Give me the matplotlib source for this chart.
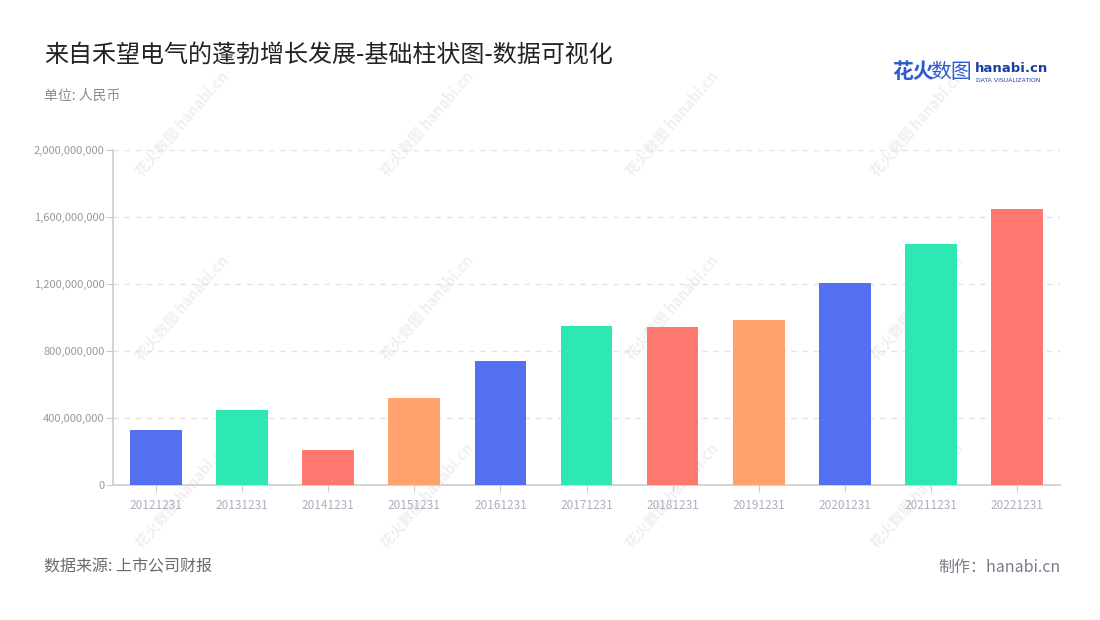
import numpy as np
import matplotlib

matplotlib.use("Agg")
import matplotlib.pyplot as plt
from matplotlib.ticker import FuncFormatter

plt.rcParams["font.family"] = ["Noto Sans CJK SC", "DejaVu Sans"]

# ---------- 数据 ----------
years = ["20121231", "20131231", "20141231", "20151231", "20161231", "20171231",
         "20181231", "20191231", "20201231", "20211231", "20221231"]
revenue = [330e6, 448e6, 209e6, 520e6, 740e6, 949e6,
           943e6, 985e6, 1206e6, 1439e6, 1648e6]
palette = ["#5470F0", "#2DE8B2", "#FF7870", "#FFA26E"]

title = "来自禾望电气的蓬勃增长发展-基础柱状图-数据可视化"
subtitle = "单位: 人民币"
source = "数据来源: 上市公司财报"
maker = "制作：hanabi.cn"

W, H = 1100, 620
fig = plt.figure(figsize=(W / 100, H / 100), dpi=100)
fig.patch.set_facecolor("white")


def fx(px):
    return px / W


def fy(py):
    return 1 - py / H


# ---------- 水印（放在底层） ----------
bg = fig.add_axes([0, 0, 1, 1], zorder=0)
bg.set_axis_off()
bg.set_xlim(0, 1)
bg.set_ylim(0, 1)
for cx in (182, 427, 672, 917):
    for cy in (123, 307, 495):
        bg.text(fx(cx), fy(cy), "花火数图 hanabi.cn", rotation=49,
                ha="center", va="center", fontsize=10.5, fontweight="bold",
                color="#f0f0f0")

ax = fig.add_axes([fx(113), fy(485), fx(1060) - fx(113), fy(150) - fy(485)], zorder=1)
ax.set_facecolor("none")

x = np.arange(len(years))
colors = [palette[i % len(palette)] for i in range(len(years))]
ax.bar(x, revenue, width=0.6, color=colors, zorder=3)

ax.set_xlim(-0.5, len(years) - 0.5)
ax.set_ylim(0, 2e9)
ax.set_yticks(np.arange(0, 2.01e9, 4e8))
ax.yaxis.set_major_formatter(FuncFormatter(lambda v, p: f"{int(v):,}"))
ax.set_xticks(x)
ax.set_xticklabels(years)

ax.grid(axis="y", color="#e3e3e3", linestyle=(0, (4, 4)), linewidth=1, zorder=0)
for s in ("top", "right"):
    ax.spines[s].set_visible(False)
for s in ("left", "bottom"):
    ax.spines[s].set_color("#cccccc")
    ax.spines[s].set_linewidth(1.2)

ax.tick_params(axis="y", colors="#cccccc", labelcolor="#999999", labelsize=8,
               length=5, pad=1)
ax.tick_params(axis="x", colors="#cccccc", labelcolor="#aab0c0", labelsize=8.5,
               length=5, pad=5)

# ---------- 文字 ----------
fig.text(fx(44), fy(55), title, fontsize=17.3, color="#222222", va="center", ha="left")
fig.text(fx(44), fy(96), subtitle, fontsize=10, color="#8c8c8c", va="center", ha="left")
fig.text(fx(44), fy(567), source, fontsize=11.5, color="#6b6b6b", va="center", ha="left")
fig.text(fx(1061), fy(567), maker, fontsize=11.5, color="#7a7a8a", va="center", ha="right")

# ---------- Logo ----------
fig.text(fx(892), fy(72), "花火", fontsize=15, fontweight="bold", color="#2d5bd1",
         va="center", ha="left")
fig.text(fx(930), fy(72), "数图", fontsize=15, color="#2d5bd1", va="center", ha="left")
fig.text(fx(975), fy(68), "hanabi.cn", fontsize=9.5, fontweight="bold", color="#1f3f9e",
         va="center", ha="left", family=["DejaVu Sans"])
fig.text(fx(976), fy(80), "DATA VISUALIZATION", fontsize=4.4, color="#1f3f9e",
         va="center", ha="left", family=["DejaVu Sans"])

fig.savefig("out.png", dpi=100, facecolor="white")
